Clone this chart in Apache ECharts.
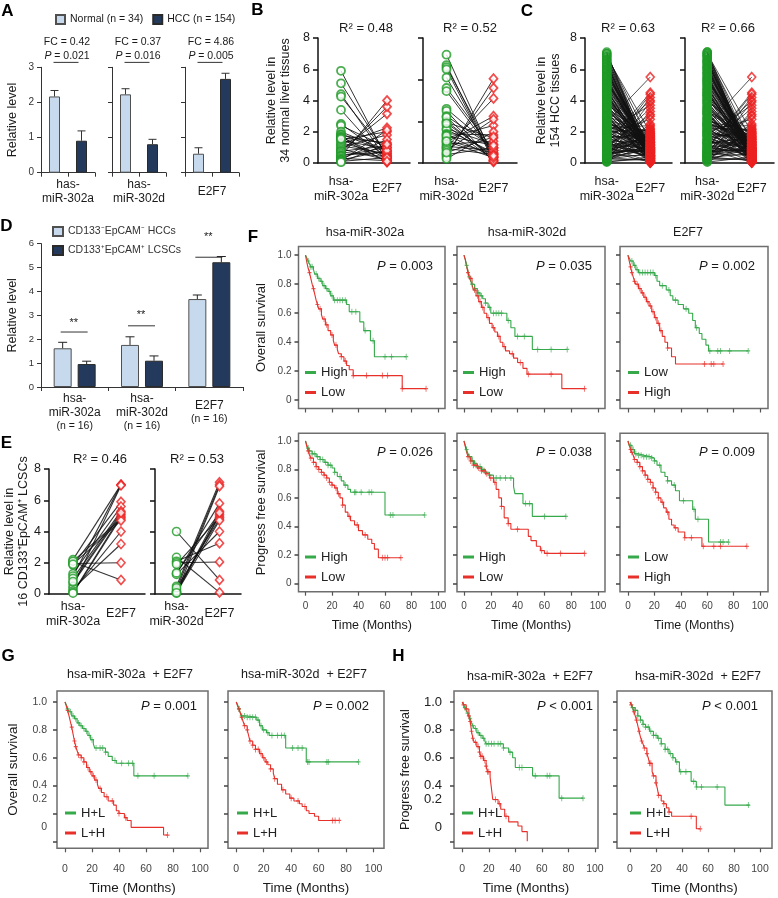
<!DOCTYPE html>
<html>
<head>
<meta charset="utf-8">
<title>hsa-miR-302a/d and E2F7</title>
<script src="https://cdn.jsdelivr.net/npm/echarts@6.0.0/dist/echarts.min.js"></script>
<style>
html,body{margin:0;padding:0;background:#ffffff;}
#chart{width:778px;height:898px;}
</style>
</head>
<body>
<div id="chart"></div>
<script>
// ================= DATA =================
// Panel A
const aCategories = ['has-\nmiR-302a', 'has-\nmiR-302d', 'E2F7'];
const aNormal = [2.17, 2.23, 0.54];
const aNormalErr = [0.17, 0.16, 0.17];
const aHCC = [0.91, 0.81, 2.67];
const aHCCErr = [0.28, 0.14, 0.16];
const aFC = ['0.42', '0.37', '4.86'];
const aP = ['0.021', '0.016', '0.005'];
const aSigY = 3.14;

// Panel D
const dCategories = ['hsa-\nmiR-302a', 'hsa-\nmiR-302d', 'E2F7'];
const dN = ['(n = 16)', '(n = 16)', '(n = 16)'];
const dHCC = [1.62, 1.76, 3.68];
const dHCCErr = [0.25, 0.34, 0.17];
const dLCSC = [0.96, 1.1, 5.22];
const dLCSCErr = [0.12, 0.2, 0.24];
const dSigY = [2.3, 2.56, 5.43];
const dStarY = [2.69, 3.01, 6.29];

// Panel B (34 normal liver tissues)
const bMiR302a = [5.9,5.1,4.4,4.25,3.4,2.5,2.4,2.0,1.85,1.8,1.7,1.65,1.6,1.5,1.45,1.3,1.2,1.1,1.0,0.9,0.8,0.75,0.7,0.6,0.5,0.45,0.4,0.3,0.25,0.2,0.15,0.1,0.05,1.55];
const bE2F7a  = [0.3,0.5,0.2,0.6,0.1,0.4,1.0,0.8,0.7,1.2,0.05,0.3,1.3,2.0,0.9,0.5,2.25,0.6,1.8,0.2,3.15,1.1,0.4,3.6,0.7,1.0,4.0,0.15,1.5,0.8,2.1,0.35,1.2,0.1];
const bMiR302d = [5.2,4.7,4.6,4.5,4.1,3.6,3.45,2.6,2.5,2.25,2.0,1.95,1.8,1.65,1.6,1.4,1.35,1.2,1.1,1.0,0.9,0.8,0.75,0.7,0.6,0.45,0.4,0.3,0.2,2.2,1.3,1.05,0.5,1.9];
const bE2F7d  = [0.25,0.15,0.4,0.1,0.3,0.6,0.45,0.7,0.05,0.75,0.25,1.2,0.15,0.9,0.5,1.35,0.3,1.8,0.45,2.25,1.05,0.6,3.1,0.4,2.1,3.6,0.75,4.05,1.5,0.1,0.85,0.25,1.25,0.35];
const bYTicksLeft = [0, 8, 2];
const bYTicksRight = [0, 6, 2];

// Panel C (154 HCC tissues)
const cE2F7 = [
 5.5,4.5,4.4,4.2,4.0,3.9,3.7,3.5,3.3,3.1,3.0,2.8,2.5,2.4,2.3,2.2,2.1,2.0,2.0,1.9,
 1.9,1.8,1.8,1.7,1.7,1.6,1.6,1.5,1.5,1.5,1.4,1.4,1.4,1.3,1.3,1.3,1.2,1.2,1.2,1.1,
 1.1,1.1,1.0,1.0,1.0,1.0,0.95,0.9,0.9,0.9,0.85,0.85,0.8,0.8,0.8,0.75,0.75,0.7,0.7,0.7,
 0.65,0.65,0.6,0.6,0.6,0.55,0.55,0.5,0.5,0.5,0.5,0.45,0.45,0.45,0.4,0.4,0.4,0.4,0.35,0.35,
 0.35,0.3,0.3,0.3,0.3,0.25,0.25,0.25,0.2,0.2,0.2,0.2,0.15,0.15,0.15,0.1,0.1,0.1,0.1,0.05,
 0.05,0.05,0.02,1.75,1.65,1.45,1.35,1.25,1.15,1.05,0.98,0.88,0.78,0.68,0.58,0.48,0.38,0.28,0.18,0.08,
 1.85,1.55,1.22,0.92,0.62,0.32,0.12,0.42,0.72,1.02,1.32,0.52,0.22,0.82,1.12,0.15,0.25,0.35,0.45,0.55,
 0.65,0.75,0.85,0.95,1.6,1.95,2.15,0.06,0.03,0.9,0.5,0.3,0.7,1.0];
const cMiR302a = [
 2.6,1.2,0.8,0.5,1.5,0.3,2.0,0.9,0.2,1.1,0.6,1.8,0.4,2.2,0.7,1.3,0.1,2.5,0.35,1.6,
 3.0,0.5,2.8,1.0,3.5,0.2,2.4,4.0,0.8,1.7,2.1,3.8,0.4,1.4,4.5,0.9,2.6,3.3,0.15,4.2,
 1.9,5.0,2.7,0.6,3.1,4.8,1.2,5.3,0.3,3.6,2.3,5.6,1.6,4.4,0.7,3.9,5.8,2.0,4.1,1.1,
 6.0,3.4,0.25,5.2,2.9,4.6,6.2,1.3,3.7,5.5,0.45,4.9,2.2,6.4,3.2,1.8,5.1,0.05,4.3,6.6,
 2.5,5.7,3.0,6.8,1.5,4.7,0.1,5.9,3.6,7.0,2.8,6.1,0.35,4.0,5.4,1.0,6.3,2.1,7.1,3.3,
 6.5,0.75,4.5,5.0,1.7,3.8,6.9,2.4,5.6,0.55,4.2,6.7,1.4,3.5,5.3,0.95,2.7,6.0,4.8,1.9,
 0.65,2.3,3.9,5.8,6.2,4.4,3.1,1.2,0.85,5.1,2.6,4.1,6.4,1.6,3.4,5.5,0.2,2.9,4.6,6.6,
 3.7,5.2,0.4,4.9,1.1,6.8,2.0,3.0,5.9,0.6,4.3,1.3,7.0,2.2];
const cMiR302d = [
 2.4,1.0,0.9,0.6,1.3,0.4,1.8,1.1,0.3,0.8,0.7,2.0,0.5,2.3,0.2,1.5,0.15,2.7,0.45,1.7,
 3.3,0.6,2.5,1.2,3.2,0.3,2.6,4.3,0.7,1.9,2.0,4.0,0.5,1.3,4.7,1.0,2.8,3.5,0.1,4.4,
 2.1,5.2,2.9,0.5,3.4,5.0,1.4,5.5,0.25,3.8,2.5,5.8,1.8,4.6,0.8,4.1,6.0,2.2,4.3,1.2,
 6.2,3.6,0.35,5.4,3.1,4.8,6.4,1.5,3.9,5.7,0.55,5.1,2.4,6.6,3.4,2.0,5.3,0.05,4.5,6.8,
 2.7,5.9,3.2,7.0,1.7,4.9,0.2,6.1,3.8,7.1,3.0,6.3,0.4,4.2,5.6,1.2,6.5,2.3,6.9,3.5,
 6.7,0.85,4.7,5.2,1.9,4.0,6.9,2.6,5.8,0.65,4.4,6.5,1.6,3.7,5.5,1.05,2.9,6.2,5.0,2.1,
 0.75,2.5,4.1,6.0,6.4,4.6,3.3,1.4,0.95,5.3,2.8,4.3,6.6,1.8,3.6,5.7,0.3,3.1,4.8,6.8,
 3.9,5.4,0.5,5.1,1.3,7.0,2.2,3.2,6.1,0.7,4.5,1.5,7.1,2.4];

// Panel E (16 CD133+EpCAM+ LCSCs)
const eMiR302a = [2.2,2.05,1.95,1.85,1.3,1.15,1.0,0.7,0.5,0.35,0.2,0.1,0.05,2.1,1.9,0.8];
const eE2F7a   = [7.0,0.9,2.0,5.9,5.6,7.0,5.3,5.1,6.95,3.2,4.0,5.0,4.9,4.8,4.7,5.2];
const eMiR302d = [4.0,2.35,2.1,2.0,1.3,1.25,0.5,0.3,0.15,0.1,0.05,0.2,1.9,0.4,0.08,1.35];
const eE2F7d   = [0.9,0.1,3.25,2.05,5.8,4.0,7.15,7.0,5.3,5.1,6.9,5.0,4.9,4.8,4.7,5.2];

// Kaplan-Meier curves: [time (months), survival after that time]
const f1OsHigh = [[0,1],[1,0.98],[2,0.96],[3,0.94],[4,0.92],[6,0.9],[7,0.87],[9,0.84],[11,0.82],[13,0.79],[15,0.77],[17,0.75],[19,0.72],[21,0.69],[31,0.66],[33,0.61],[41,0.54],[44,0.48],[49,0.41],[52,0.3],[76,0.3]];
const f1OsHighCens = [2,4,5,8,10,12,14,16,18,20,22,24,26,28,30,35,38,45,51,60,65,76];
const f1OsLow = [[0,1],[1,0.95],[2,0.91],[3,0.88],[4,0.84],[5,0.8],[6,0.77],[7,0.73],[8,0.69],[9,0.66],[10,0.63],[12,0.59],[13,0.56],[15,0.52],[17,0.48],[19,0.45],[21,0.41],[22,0.38],[24,0.35],[25,0.32],[27,0.3],[29,0.27],[31,0.24],[33,0.21],[36,0.17],[73,0.08],[91,0.08]];
const f1OsLowCens = [3,6,9,11,14,16,20,23,27,30,36,46,58,62,73,91];

const f2OsHigh = [[0,1],[1,0.97],[2,0.93],[3,0.89],[4,0.85],[5,0.82],[6,0.8],[8,0.77],[10,0.74],[12,0.72],[14,0.7],[16,0.67],[18,0.64],[20,0.6],[32,0.55],[35,0.5],[38,0.44],[51,0.35],[77,0.35]];
const f2OsHighCens = [2,4,6,8,11,13,16,19,22,24,26,28,33,40,45,55,65,77];
const f2OsLow = [[0,1],[1,0.97],[2,0.92],[3,0.88],[4,0.84],[6,0.8],[7,0.76],[9,0.72],[11,0.68],[13,0.64],[15,0.6],[17,0.57],[19,0.53],[21,0.5],[23,0.47],[25,0.44],[27,0.4],[29,0.37],[31,0.34],[34,0.32],[37,0.29],[40,0.26],[44,0.22],[47,0.18],[73,0.08],[90,0.08]];
const f2OsLowCens = [3,5,8,10,12,14,18,22,26,30,36,42,48,65,90];

const f3OsLow = [[0,1],[1,0.98],[2,0.96],[4,0.93],[6,0.9],[8,0.88],[20,0.86],[22,0.82],[24,0.79],[29,0.76],[32,0.72],[34,0.69],[38,0.66],[42,0.63],[46,0.6],[49,0.55],[51,0.5],[54,0.46],[56,0.42],[59,0.38],[61,0.34],[91,0.34]];
const f3OsLowCens = [3,5,7,9,11,13,15,17,19,21,26,31,36,44,52,62,68,70,77,91];
const f3OsHigh = [[0,1],[1,0.96],[2,0.92],[3,0.88],[4,0.85],[5,0.82],[6,0.8],[8,0.77],[10,0.74],[12,0.71],[14,0.68],[16,0.65],[18,0.61],[20,0.57],[22,0.53],[24,0.48],[26,0.44],[28,0.4],[30,0.36],[33,0.3],[36,0.25],[72,0.25]];
const f3OsHighCens = [2,3,5,7,9,11,13,15,17,19,21,23,25,30,58,63,65,72];

const f4PfsHigh = [[0,1],[1,0.97],[2,0.95],[3,0.93],[5,0.91],[8,0.89],[11,0.87],[14,0.85],[17,0.83],[20,0.81],[22,0.78],[24,0.75],[27,0.72],[29,0.69],[32,0.66],[34,0.64],[60,0.48],[90,0.48]];
const f4PfsHighCens = [2,3,5,7,9,11,13,15,17,19,22,26,30,37,38,42,48,50,64,66,90];
const f4PfsLow = [[0,1],[1,0.96],[2,0.93],[3,0.9],[4,0.88],[6,0.85],[8,0.82],[10,0.8],[12,0.78],[14,0.76],[16,0.74],[18,0.71],[20,0.69],[22,0.67],[24,0.63],[26,0.6],[28,0.55],[30,0.5],[32,0.47],[34,0.44],[37,0.41],[40,0.37],[43,0.34],[47,0.31],[50,0.28],[52,0.24],[55,0.18],[72,0.18]];
const f4PfsLowCens = [2,4,6,8,10,12,14,16,18,20,23,25,28,33,39,45,58,60,62,72];

const f5PfsHigh = [[0,1],[1,0.97],[2,0.94],[3,0.91],[4,0.89],[6,0.86],[8,0.84],[10,0.82],[13,0.8],[16,0.78],[19,0.76],[22,0.74],[37,0.68],[38,0.63],[44,0.56],[51,0.47],[76,0.47]];
const f5PfsHighCens = [2,4,6,8,10,12,14,16,19,24,27,31,35,46,49,60,76];
const f5PfsLow = [[0,1],[1,0.96],[2,0.92],[3,0.89],[5,0.86],[7,0.83],[10,0.81],[13,0.79],[16,0.77],[19,0.74],[22,0.71],[24,0.66],[26,0.6],[28,0.54],[30,0.46],[33,0.42],[35,0.38],[48,0.33],[50,0.3],[54,0.26],[57,0.23],[60,0.21],[90,0.21]];
const f5PfsLowCens = [3,5,7,9,11,13,15,17,20,23,28,33,40,58,62,72,90];

const f6PfsLow = [[0,1],[1,0.97],[3,0.94],[5,0.91],[8,0.9],[12,0.89],[17,0.88],[20,0.86],[22,0.83],[25,0.78],[28,0.75],[30,0.72],[33,0.69],[36,0.65],[39,0.58],[49,0.52],[51,0.45],[61,0.29],[76,0.29]];
const f6PfsLowCens = [2,4,6,8,10,12,14,16,18,20,24,30,35,42,50,53,70,72,76];
const f6PfsHigh = [[0,1],[1,0.97],[2,0.94],[3,0.92],[4,0.9],[5,0.87],[7,0.85],[9,0.82],[11,0.79],[13,0.76],[15,0.73],[17,0.71],[19,0.67],[21,0.64],[23,0.6],[25,0.57],[27,0.53],[29,0.5],[31,0.45],[33,0.41],[35,0.39],[38,0.36],[43,0.32],[56,0.26],[90,0.26]];
const f6PfsHighCens = [2,3,5,7,9,11,13,15,17,19,21,23,26,30,36,43,48,57,65,70,90];

const g1HL = [[0,1],[1,0.98],[2,0.95],[3,0.93],[5,0.9],[7,0.88],[9,0.85],[11,0.83],[13,0.81],[15,0.79],[17,0.76],[19,0.73],[21,0.7],[22,0.67],[30,0.64],[32,0.61],[35,0.58],[38,0.56],[51,0.47],[91,0.47]];
const g1HLCens = [2,4,6,8,10,12,14,16,18,20,23,26,28,30,37,42,47,50,54,66,91];
const g1LH = [[0,1],[1,0.97],[2,0.94],[3,0.9],[4,0.86],[5,0.82],[6,0.77],[7,0.72],[8,0.68],[9,0.65],[10,0.62],[12,0.6],[14,0.57],[16,0.53],[18,0.5],[20,0.47],[22,0.44],[24,0.41],[25,0.38],[27,0.35],[29,0.32],[32,0.29],[36,0.26],[38,0.22],[40,0.2],[44,0.17],[46,0.15],[49,0.1],[73,0.045],[76,0.045]];
const g1LHCens = [2,5,7,8,10,12,14,17,19,21,23,26,31,35,40,45,76];

const g2HL = [[0,1],[1,0.98],[2,0.95],[3,0.92],[4,0.9],[8,0.89],[15,0.87],[17,0.83],[19,0.8],[22,0.78],[24,0.76],[36,0.67],[51,0.57],[89,0.57]];
const g2HLCens = [2,4,6,8,10,12,14,16,18,20,23,26,30,33,35,41,45,48,52,53,66,67,89];
const g2LH = [[0,1],[1,0.97],[2,0.95],[3,0.92],[4,0.89],[5,0.86],[6,0.83],[8,0.8],[9,0.76],[10,0.72],[12,0.69],[14,0.66],[17,0.63],[19,0.6],[21,0.57],[23,0.55],[25,0.52],[27,0.49],[28,0.45],[30,0.41],[33,0.37],[36,0.34],[39,0.31],[42,0.29],[46,0.27],[48,0.25],[51,0.22],[53,0.2],[57,0.18],[60,0.15],[75,0.15]];
const g2LHCens = [2,4,6,8,10,12,14,16,18,20,22,25,28,34,40,45,50,70,72,75];

const h1HL = [[0,1],[1,0.98],[2,0.96],[3,0.94],[4,0.92],[5,0.9],[6,0.88],[7,0.85],[8,0.83],[9,0.81],[11,0.78],[13,0.76],[15,0.74],[17,0.72],[18,0.7],[31,0.67],[35,0.64],[38,0.6],[40,0.53],[53,0.47],[73,0.31],[91,0.31]];
const h1HLCens = [2,4,6,8,10,12,14,16,18,20,22,24,27,29,31,36,43,45,55,64,66,75,91];
const h1LH = [[0,1],[1,0.98],[3,0.95],[5,0.9],[6,0.86],[7,0.79],[8,0.74],[9,0.71],[11,0.68],[13,0.64],[14,0.61],[16,0.58],[18,0.54],[19,0.5],[21,0.46],[22,0.38],[23,0.3],[27,0.27],[29,0.23],[32,0.18],[35,0.14],[42,0.11],[45,0.07],[49,0.0]];
const h1LHCens = [1,3,5,6,7,8,10,12,13,14,15,17,18,19,20,25,28,33];

const h2HL = [[0,1],[1,0.98],[2,0.96],[4,0.94],[6,0.9],[8,0.87],[10,0.84],[12,0.82],[15,0.79],[18,0.76],[21,0.74],[24,0.7],[27,0.66],[30,0.63],[33,0.6],[35,0.57],[38,0.5],[47,0.43],[51,0.39],[73,0.26],[92,0.26]];
const h2HLCens = [2,4,6,8,10,12,14,16,18,20,22,24,27,29,31,33,36,39,43,49,51,55,67,91];
const h2LH = [[0,1],[1,0.98],[2,0.96],[3,0.93],[4,0.9],[5,0.87],[6,0.83],[7,0.79],[8,0.75],[9,0.72],[10,0.7],[11,0.67],[13,0.63],[14,0.6],[15,0.56],[17,0.5],[18,0.47],[20,0.42],[21,0.38],[22,0.33],[24,0.29],[26,0.27],[28,0.24],[30,0.21],[32,0.18],[51,0.09],[54,0.09]];
const h2LHCens = [1,3,5,7,9,11,13,15,16,18,20,22,26,30,47,54];

// Axis tick values
const SURV_TICKS = [0, 0.2, 0.4, 0.6, 0.8, 1];
const TIME_TICKS = [0, 20, 40, 60, 80, 100];
const GH_LABEL_VALUES = [1, 0.8, 0.6, 0.4, 0.3, 0.1];
const GH_LABEL_TEXT = ['1.0', '0.8', '0.6', '0.4', '0.2', '0'];

// ================= BUILD =================
const FONT = '"Liberation Sans", Arial, Helvetica, sans-serif';
const INK = '#1a1a1a';
const A_LIGHT = '#c7daed';
const A_DARK = '#233a5c';
const PT_GREEN = '#1e9a26';
const PT_RED = '#ec2020';
const KM_GREEN = '#36a94b';
const KM_RED = '#e8302b';
const PLUS = 'path://M2,0H3V2H5V3H3V5H2V3H0V2H2Z';

const grid = [], xAxis = [], yAxis = [], series = [], legend = [], graphic = [];

function addText(x, y, text, o) {
  graphic.push({type: 'text', x: x, y: y, silent: true, z: 10,
    style: Object.assign({text: text, fontSize: 12, fontFamily: FONT, fill: INK, align: 'center', verticalAlign: 'middle'}, o || {})});
}
function italicP(size) { return {i: {fontStyle: 'italic', fontSize: size, fontFamily: FONT, fill: INK}}; }
function survAt(curve, t) {
  let s = curve[0][1];
  for (let k = 0; k < curve.length; k++) { if (curve[k][0] <= t) s = curve[k][1]; }
  return s;
}
function errRender(offset, cap, color) {
  return function (params, api) {
    const b = api.coord([api.value(0), api.value(1)]);
    const t = api.coord([api.value(0), api.value(2)]);
    const x = b[0] + offset;
    return {type: 'group', children: [
      {type: 'line', shape: {x1: x, y1: b[1], x2: x, y2: t[1]}, style: {stroke: color, lineWidth: 1}},
      {type: 'line', shape: {x1: x - cap, y1: t[1], x2: x + cap, y2: t[1]}, style: {stroke: color, lineWidth: 1}}
    ]};
  };
}

// ---------- Panel A ----------
const A_LEFT = [41, 112, 185];
aCategories.forEach(function (cat, i) {
  const gi = grid.length;
  grid.push({left: A_LEFT[i], top: 67.3, width: 54, height: 105.4, outerBoundsMode: 'none'});
  const xi = xAxis.length;
  xAxis.push({type: 'value', gridIndex: gi, min: 0, max: 2, interval: 1,
    axisLine: {show: true, onZero: false, lineStyle: {color: '#333', width: 1}},
    axisTick: {show: true, length: 4, lineStyle: {color: '#333'}},
    axisLabel: {show: true, showMinLabel: true, showMaxLabel: true, formatter: function (v) { return v === 1 ? cat : ''; },
      margin: 19, verticalAlign: 'middle', fontSize: 12, lineHeight: 13.5, color: INK, fontFamily: FONT},
    splitLine: {show: false}});
  const yi = yAxis.length;
  yAxis.push({type: 'value', gridIndex: gi, min: 0, max: 3, interval: 1,
    axisLine: {show: true, onZero: false, lineStyle: {color: '#333', width: 1}},
    axisTick: {show: true, length: 4, lineStyle: {color: '#333'}},
    axisLabel: {show: i === 0, fontSize: 10, color: '#333', margin: 7, fontFamily: FONT},
    splitLine: {show: false},
    name: i === 0 ? 'Relative level' : '', nameLocation: 'middle', nameGap: 22,
    nameTextStyle: {fontSize: 12.5, color: INK, fontFamily: FONT}});
  series.push({type: 'bar', name: 'Normal (n = 34)', xAxisIndex: xi, yAxisIndex: yi, data: [[0.5, aNormal[i]]],
    barWidth: 11, barGap: '-100%', itemStyle: {color: A_LIGHT, borderColor: '#505050', borderWidth: 1}, silent: true});
  series.push({type: 'bar', name: 'HCC (n = 154)', xAxisIndex: xi, yAxisIndex: yi, data: [[1.5, aHCC[i]]],
    barWidth: 11, barGap: '-100%', itemStyle: {color: A_DARK, borderColor: '#2a2a2a', borderWidth: 1}, silent: true});
  series.push({type: 'custom', xAxisIndex: xi, yAxisIndex: yi, clip: false, silent: true, z: 5,
    data: [[0.5, aNormal[i], aNormal[i] + aNormalErr[i]], [1.5, aHCC[i], aHCC[i] + aHCCErr[i]]],
    encode: {x: 0, y: [1, 2]}, renderItem: errRender(0, 4, '#333')});
  series.push({type: 'custom', xAxisIndex: xi, yAxisIndex: yi, clip: false, silent: true, z: 5,
    data: [[0.5, 1.5, aSigY]], encode: {x: [0, 1], y: 2},
    renderItem: function (params, api) {
      const p1 = api.coord([api.value(0), api.value(2)]);
      const p2 = api.coord([api.value(1), api.value(2)]);
      const cx = (p1[0] + p2[0]) / 2 - 1;
      return {type: 'group', children: [
        {type: 'line', shape: {x1: p1[0] - 1, y1: p1[1], x2: p2[0] - 3, y2: p2[1]}, style: {stroke: '#333', lineWidth: 1}},
        {type: 'text', x: cx, y: p1[1] - 20, style: {text: 'FC = ' + aFC[i], fontSize: 10.5, fontFamily: FONT, fill: INK, align: 'center', verticalAlign: 'middle'}},
        {type: 'text', x: cx, y: p1[1] - 6, style: {text: '{i|P} = ' + aP[i], rich: italicP(10.5), fontSize: 10.5, fontFamily: FONT, fill: INK, align: 'center', verticalAlign: 'middle'}}
      ]};
    }});
});
legend.push({left: 55, top: 14, padding: 0, itemWidth: 9, itemHeight: 9, itemGap: 9, icon: 'rect', selectedMode: false,
  data: ['Normal (n = 34)', 'HCC (n = 154)'], textStyle: {fontSize: 10.5, color: INK, fontFamily: FONT}});

// ---------- Panel D ----------
(function () {
  const gi = grid.length;
  grid.push({left: 41, top: 243.6, width: 202, height: 143.4, outerBoundsMode: 'none'});
  const xi = xAxis.length;
  xAxis.push({type: 'category', gridIndex: gi, data: dCategories, boundaryGap: true,
    axisLine: {show: true, onZero: false, lineStyle: {color: '#333', width: 1}},
    axisTick: {show: true, length: 4, lineStyle: {color: '#333'}},
    axisLabel: {interval: 0, margin: 25, verticalAlign: 'middle',
      formatter: function (v, idx) { return v.split('\n').map(function (l) { return '{a|' + l + '}'; }).join('\n') + '\n{b|' + dN[idx] + '}'; },
      rich: {a: {fontSize: 12, lineHeight: 14.5, color: INK, fontFamily: FONT}, b: {fontSize: 10.5, lineHeight: 13, color: INK, fontFamily: FONT}}},
    splitLine: {show: false}});
  const yi = yAxis.length;
  yAxis.push({type: 'value', gridIndex: gi, min: 0, max: 6, interval: 1,
    axisLine: {show: true, onZero: false, lineStyle: {color: '#333', width: 1}},
    axisTick: {show: true, length: 4, lineStyle: {color: '#333'}},
    axisLabel: {fontSize: 9.5, color: '#333', margin: 7, fontFamily: FONT},
    splitLine: {show: false},
    name: 'Relative level', nameLocation: 'middle', nameGap: 22,
    nameTextStyle: {fontSize: 12.5, color: INK, fontFamily: FONT}});
  series.push({type: 'bar', name: 'CD133\u207BEpCAM\u207B HCCs', xAxisIndex: xi, yAxisIndex: yi, data: dHCC,
    barWidth: 18, barGap: '33.3%', itemStyle: {color: A_LIGHT, borderColor: '#505050', borderWidth: 1}, silent: true});
  series.push({type: 'bar', name: 'CD133\u207AEpCAM\u207A LCSCs', xAxisIndex: xi, yAxisIndex: yi, data: dLCSC,
    barWidth: 18, barGap: '33.3%', itemStyle: {color: A_DARK, borderColor: '#2a2a2a', borderWidth: 1}, silent: true});
  series.push({type: 'custom', xAxisIndex: xi, yAxisIndex: yi, clip: false, silent: true, z: 5,
    data: dHCC.map(function (v, k) { return [k, v, v + dHCCErr[k]]; }), encode: {x: 0, y: [1, 2]}, renderItem: errRender(-12, 4.5, '#222')});
  series.push({type: 'custom', xAxisIndex: xi, yAxisIndex: yi, clip: false, silent: true, z: 5,
    data: dLCSC.map(function (v, k) { return [k, v, v + dLCSCErr[k]]; }), encode: {x: 0, y: [1, 2]}, renderItem: errRender(12, 4.5, '#222')});
  series.push({type: 'custom', xAxisIndex: xi, yAxisIndex: yi, clip: false, silent: true, z: 5,
    data: dSigY.map(function (y, k) { return [k, y, dStarY[k]]; }), encode: {x: 0, y: [1, 2]},
    renderItem: function (params, api) {
      const p = api.coord([api.value(0), api.value(1)]);
      const s = api.coord([api.value(0), api.value(2)]);
      return {type: 'group', children: [
        {type: 'line', shape: {x1: p[0] - 14, y1: p[1], x2: p[0] + 13, y2: p[1]}, style: {stroke: '#333', lineWidth: 1}},
        {type: 'text', x: p[0] - 1, y: s[1], style: {text: '**', fontSize: 11, fontFamily: FONT, fill: INK, align: 'center', verticalAlign: 'middle'}}
      ]};
    }});
  legend.push({left: 52, top: 226, orient: 'vertical', padding: 0, itemWidth: 10, itemHeight: 9, itemGap: 8, icon: 'rect', selectedMode: false,
    data: ['CD133\u207BEpCAM\u207B HCCs', 'CD133\u207AEpCAM\u207A LCSCs'], textStyle: {fontSize: 10.5, color: '#333', fontFamily: FONT}});
})();

// ---------- Panels B, C, E (paired plots) ----------
function pairPanel(p) {
  const gi = grid.length;
  grid.push({left: p.left, top: p.top, width: p.width, height: 125, outerBoundsMode: 'none'});
  const xi = xAxis.length;
  xAxis.push({type: 'category', gridIndex: gi, data: ['hsa-\nmiR-302' + p.mirSuffix, 'E2F7'], boundaryGap: true,
    axisLine: {show: true, onZero: false, lineStyle: {color: '#111', width: 1.5}},
    axisTick: {show: false},
    axisLabel: {interval: 0, margin: p.labelMargin, verticalAlign: 'middle', fontSize: 12.5, lineHeight: 14.5, color: INK, fontFamily: FONT},
    splitLine: {show: false}});
  const yi = yAxis.length;
  yAxis.push({type: 'value', gridIndex: gi, min: p.yTicks[0], max: p.yTicks[1], interval: p.yTicks[2],
    axisLine: {show: true, onZero: false, lineStyle: {color: '#111', width: 1.5}},
    axisTick: {show: true, length: 5, lineStyle: {color: '#111', width: 1.5}},
    axisLabel: {show: !!p.showY, fontSize: 12.5, color: INK, margin: 8, fontFamily: FONT},
    splitLine: {show: false},
    name: p.yName || '', nameLocation: 'middle', nameGap: p.nameGap || 20,
    nameTextStyle: {fontSize: 12.5, lineHeight: 14, color: INK, fontFamily: FONT}});
  series.push({type: 'custom', xAxisIndex: xi, yAxisIndex: yi, clip: false, silent: true, z: 1,
    data: p.mir.map(function (g, k) { return [0, g, p.e2f7[k]]; }), encode: {x: 0, y: [1, 2]},
    renderItem: function (params, api) {
      const a = api.coord([0, api.value(1)]);
      const b = api.coord([1, api.value(2)]);
      return {type: 'line', shape: {x1: a[0], y1: a[1], x2: b[0], y2: b[1]}, style: {stroke: '#111', lineWidth: p.lw, opacity: p.lo}};
    }});
  series.push({type: 'scatter', xAxisIndex: xi, yAxisIndex: yi, silent: true, z: 3,
    data: p.mir.map(function (v) { return [0, v]; }), symbol: 'circle', symbolSize: p.ms,
    itemStyle: {color: p.fill, borderColor: PT_GREEN, borderWidth: p.bw}});
  series.push({type: 'scatter', xAxisIndex: xi, yAxisIndex: yi, silent: true, z: 3,
    data: p.e2f7.map(function (v) { return [1, v]; }), symbol: 'diamond', symbolSize: [p.ms, p.ms + 1],
    itemStyle: {color: p.fill, borderColor: PT_RED, borderWidth: p.bw}});
  addText(p.titleX, p.titleY, p.title, {fontSize: 13});
}

pairPanel({left: 318, top: 38, width: 92, mirSuffix: 'a', mir: bMiR302a, e2f7: bE2F7a, yTicks: bYTicksLeft, showY: true,
  yName: 'Relative level in\n34 normal liver tissues', nameGap: 25, labelMargin: 26, ms: 8, bw: 1.8, fill: '#ffffff', lw: 1, lo: 0.85,
  title: 'R\u00B2 = 0.48', titleX: 366, titleY: 28});
pairPanel({left: 423, top: 38, width: 94, mirSuffix: 'd', mir: bMiR302d, e2f7: bE2F7d, yTicks: bYTicksRight, showY: false,
  labelMargin: 26, ms: 8, bw: 1.8, fill: '#ffffff', lw: 1, lo: 0.85, title: 'R\u00B2 = 0.52', titleX: 470, titleY: 28});
pairPanel({left: 585, top: 38, width: 87, mirSuffix: 'a', mir: cMiR302a, e2f7: cE2F7, yTicks: bYTicksLeft, showY: true,
  yName: 'Relative level in\n154 HCC tissues', nameGap: 22, labelMargin: 26, ms: 8, bw: 1.6, fill: 'rgba(255,255,255,0)', lw: 0.8, lo: 0.9,
  title: 'R\u00B2 = 0.63', titleX: 628, titleY: 28});
pairPanel({left: 685, top: 38, width: 89, mirSuffix: 'd', mir: cMiR302d, e2f7: cE2F7, yTicks: bYTicksLeft, showY: false,
  labelMargin: 26, ms: 8, bw: 1.6, fill: 'rgba(255,255,255,0)', lw: 0.8, lo: 0.9, title: 'R\u00B2 = 0.66', titleX: 728, titleY: 28});
pairPanel({left: 49, top: 469, width: 96, mirSuffix: 'a', mir: eMiR302a, e2f7: eE2F7a, yTicks: bYTicksLeft, showY: true,
  yName: 'Relative level in\n16 CD133\u207AEpCAM\u207A LCSCs', nameGap: 18, labelMargin: 20, ms: 8, bw: 1.6, fill: '#ffffff', lw: 1.1, lo: 0.85,
  title: 'R\u00B2 = 0.46', titleX: 100, titleY: 459});
pairPanel({left: 155, top: 469, width: 86, mirSuffix: 'd', mir: eMiR302d, e2f7: eE2F7d, yTicks: bYTicksLeft, showY: false,
  labelMargin: 20, ms: 8, bw: 1.6, fill: '#ffffff', lw: 1.1, lo: 0.85, title: 'R\u00B2 = 0.53', titleX: 197, titleY: 459});

// ---------- Kaplan-Meier panels ----------
function km(c) {
  const gi = grid.length;
  grid.push({left: c.left, top: c.top, width: c.width, height: c.height, show: true, borderColor: '#6e6e6e', borderWidth: 1.5,
    backgroundColor: 'rgba(0,0,0,0)', outerBoundsMode: 'none'});
  const xi = xAxis.length;
  xAxis.push({type: 'value', gridIndex: gi, min: c.xmin, max: c.xmax,
    axisLine: {show: false, onZero: false},
    axisTick: {show: true, customValues: TIME_TICKS, length: 4, lineStyle: {color: '#555', width: 1.2}},
    axisLabel: {show: !!c.xLabels, customValues: TIME_TICKS, fontSize: c.xFont, color: '#444', margin: c.xMargin, fontFamily: FONT},
    splitLine: {show: false},
    name: c.xName || '', nameLocation: 'middle', nameGap: c.xNameGap, nameTextStyle: {fontSize: c.xNameFont, color: INK, fontFamily: FONT}});
  const yi = yAxis.length;
  yAxis.push({type: 'value', gridIndex: gi, min: c.ymin, max: c.ymax,
    axisLine: {show: false, onZero: false},
    axisTick: {show: true, customValues: SURV_TICKS, length: 4, lineStyle: {color: '#444', width: 1.5}},
    axisLabel: {show: !!c.yLabels, customValues: c.yLabelValues, formatter: c.yFormatter, fontSize: c.yFont, color: c.yColor, margin: c.yMargin, fontFamily: FONT},
    splitLine: {show: false},
    name: c.yName || '', nameLocation: 'middle', nameGap: c.yNameGap, nameTextStyle: {fontSize: c.yNameFont, color: INK, fontFamily: FONT}});
  const names = [];
  c.curves.forEach(function (cv) {
    series.push({type: 'line', name: cv.name, xAxisIndex: xi, yAxisIndex: yi, data: cv.data, step: 'end', showSymbol: false, symbol: 'none',
      itemStyle: {color: cv.color}, lineStyle: {color: cv.color, width: 1.1}, silent: true, z: 2});
    series.push({type: 'scatter', name: cv.name + '|c', xAxisIndex: xi, yAxisIndex: yi,
      data: cv.censor.map(function (t) { return [t, survAt(cv.data, t)]; }),
      symbol: PLUS, symbolSize: [4, 6], itemStyle: {color: cv.color}, silent: true, z: 3});
    names.push(cv.name);
  });
  legend.push({left: c.legLeft, top: c.legTop, orient: 'vertical', padding: 0, itemGap: 5, itemWidth: 11, itemHeight: 3, icon: 'rect',
    selectedMode: false, data: names, formatter: function (n) { return n.split('|')[1]; },
    textStyle: {fontSize: 13, lineHeight: 15, color: '#222', fontFamily: FONT}});
  addText(c.pX, c.pY, '{i|P} ' + c.pText, {fontSize: 13, align: 'right', rich: italicP(13)});
}

const survFmt = function (v) { return v === 0 ? '0' : v.toFixed(1); };
const ghFmt = function (v) {
  for (let k = 0; k < GH_LABEL_VALUES.length; k++) { if (Math.abs(v - GH_LABEL_VALUES[k]) < 1e-6) return GH_LABEL_TEXT[k]; }
  return '';
};

const F_ROWS = [
  {top: 246.5, height: 162, ymin: -0.057, ymax: 1.06, yName: 'Overall survival', legTop: 365, pY: 266, xLabels: false, xName: ''},
  {top: 433.3, height: 158.4, ymin: -0.059, ymax: 1.054, yName: 'Progress free survival', legTop: 549.5, pY: 452, xLabels: true, xName: 'Time (Months)'}
];
const F_COLS = [
  {left: 298.5, width: 146.5, xmin: -5.3, xmax: 105.3, legLeft: 305, pX: 433},
  {left: 457, width: 148, xmin: -5.2, xmax: 105.2, legLeft: 463, pX: 592},
  {left: 620, width: 148, xmin: -6, xmax: 106, legLeft: 628, pX: 755}
];
const F_SETS = [
  [[f1OsHigh, f1OsHighCens, 'High'], [f1OsLow, f1OsLowCens, 'Low'], '= 0.003'],
  [[f2OsHigh, f2OsHighCens, 'High'], [f2OsLow, f2OsLowCens, 'Low'], '= 0.035'],
  [[f3OsLow, f3OsLowCens, 'Low'], [f3OsHigh, f3OsHighCens, 'High'], '= 0.002'],
  [[f4PfsHigh, f4PfsHighCens, 'High'], [f4PfsLow, f4PfsLowCens, 'Low'], '= 0.026'],
  [[f5PfsHigh, f5PfsHighCens, 'High'], [f5PfsLow, f5PfsLowCens, 'Low'], '= 0.038'],
  [[f6PfsLow, f6PfsLowCens, 'Low'], [f6PfsHigh, f6PfsHighCens, 'High'], '= 0.009']
];
F_SETS.forEach(function (set, k) {
  const r = F_ROWS[Math.floor(k / 3)], col = F_COLS[k % 3];
  km({left: col.left, top: r.top, width: col.width, height: r.height, xmin: col.xmin, xmax: col.xmax, ymin: r.ymin, ymax: r.ymax,
    xLabels: r.xLabels, xFont: 10, xMargin: 10, xName: r.xName, xNameGap: 27, xNameFont: 12.5,
    yLabels: k % 3 === 0, yLabelValues: SURV_TICKS, yFormatter: survFmt, yFont: 10, yColor: '#444', yMargin: 7,
    yName: k % 3 === 0 ? r.yName : '', yNameGap: 31, yNameFont: 13,
    curves: [
      {name: 'F' + k + '|' + set[0][2], data: set[0][0], censor: set[0][1], color: KM_GREEN},
      {name: 'F' + k + '|' + set[1][2], data: set[1][0], censor: set[1][1], color: KM_RED}],
    legLeft: col.legLeft, legTop: r.legTop, pX: col.pX, pY: r.pY, pText: set[2]});
});

const GH_PANELS = [
  {id: 'G1', left: 57, width: 151, xmin: -5.9, xmax: 105.9, hl: g1HL, hlC: g1HLCens, lh: g1LH, lhC: g1LHCens, p: '= 0.001', pX: 197,
    yLabels: true, yName: 'Overall survival', yNameGap: 37, yFont: 10.5, yColor: '#444', yMargin: 10, yNameFont: 13.5, legLeft: 65},
  {id: 'G2', left: 228, width: 156, xmin: -6, xmax: 107.6, hl: g2HL, hlC: g2HLCens, lh: g2LH, lhC: g2LHCens, p: '= 0.002', pX: 369,
    yLabels: false, yName: '', yNameGap: 37, yFont: 10.5, yColor: '#444', yMargin: 10, yNameFont: 13.5, legLeft: 237},
  {id: 'H1', left: 454, width: 144, xmin: -6.2, xmax: 102.3, hl: h1HL, hlC: h1HLCens, lh: h1LH, lhC: h1LHCens, p: '< 0.001', pX: 593,
    yLabels: true, yName: 'Progress free survival', yNameGap: 42, yFont: 13, yColor: '#222', yMargin: 12, yNameFont: 12.5, legLeft: 462},
  {id: 'H2', left: 617, width: 155, xmin: -10, xmax: 109.2, hl: h2HL, hlC: h2HLCens, lh: h2LH, lhC: h2LHCens, p: '< 0.001', pX: 758,
    yLabels: false, yName: '', yNameGap: 42, yFont: 13, yColor: '#222', yMargin: 12, yNameFont: 12.5, legLeft: 630}
];
GH_PANELS.forEach(function (g) {
  km({left: g.left, top: 691, width: g.width, height: 157.3, xmin: g.xmin, xmax: g.xmax, ymin: -0.05, ymax: 1.079,
    xLabels: true, xFont: 10.5, xMargin: 15, xName: 'Time (Months)', xNameGap: 33, xNameFont: 13.5,
    yLabels: g.yLabels, yLabelValues: GH_LABEL_VALUES, yFormatter: ghFmt, yFont: g.yFont, yColor: g.yColor, yMargin: g.yMargin,
    yName: g.yName, yNameGap: g.yNameGap, yNameFont: g.yNameFont,
    curves: [
      {name: g.id + '|H+L', data: g.hl, censor: g.hlC, color: KM_GREEN},
      {name: g.id + '|L+H', data: g.lh, censor: g.lhC, color: KM_RED}],
    legLeft: g.legLeft, legTop: 805.5, pX: g.pX, pY: 706.5, pText: g.p});
});

// ---------- Titles and panel letters ----------
addText(365, 233, 'hsa-miR-302a', {fontSize: 12.5});
addText(527, 233, 'hsa-miR-302d', {fontSize: 12.5});
addText(688, 233, 'E2F7', {fontSize: 12.5});
addText(130, 675, 'hsa-miR-302a  + E2F7', {fontSize: 12.5});
addText(304, 675, 'hsa-miR-302d  + E2F7', {fontSize: 12.5});
addText(530, 677, 'hsa-miR-302a  + E2F7', {fontSize: 12.5});
addText(698, 677, 'hsa-miR-302d  + E2F7', {fontSize: 12.5});

const LETTER = {fontSize: 17, fontWeight: 'bold', fill: '#000'};
addText(7.5, 11, 'A', LETTER);
addText(257.5, 10, 'B', LETTER);
addText(527, 11, 'C', LETTER);
addText(6.5, 226.5, 'D', LETTER);
addText(6.5, 443.5, 'E', LETTER);
addText(253, 237, 'F', LETTER);
addText(8, 656, 'G', LETTER);
addText(398.5, 656, 'H', LETTER);

const chart = echarts.init(document.getElementById('chart'), null, {renderer: 'canvas', width: 778, height: 898});
chart.setOption({
  animation: false,
  backgroundColor: '#ffffff',
  textStyle: {fontFamily: FONT},
  grid: grid, xAxis: xAxis, yAxis: yAxis, series: series, legend: legend,
  graphic: {elements: graphic}
});
</script>
</body>
</html>
